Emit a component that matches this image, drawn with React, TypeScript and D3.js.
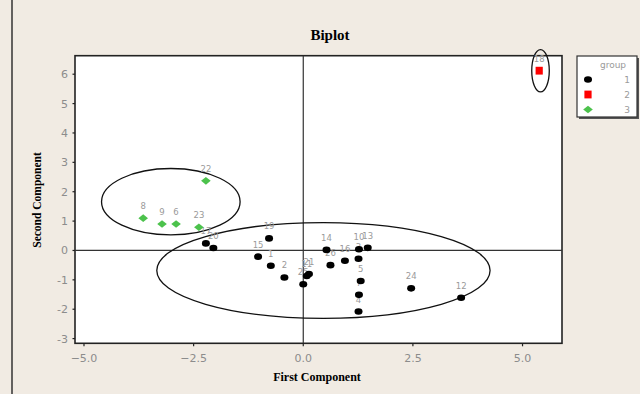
import React from "react";
import * as d3 from "d3";

const ids = ["1","2","3","4","5","6","7","8","9","10","11","12","13","14","15","16","17","18","19","20","21","22","23","24","25","26"];
const pc1 = [-0.74,-0.43,1.26,1.26,1.31,-2.90,1.27,-3.65,-3.22,1.27,0.08,3.60,1.47,0.53,-1.03,0.95,-2.22,5.38,-0.78,-2.05,0.13,-2.22,-2.38,2.46,0.0,0.62];
const pc2 = [-0.52,-0.92,-0.28,-2.08,-1.04,0.90,-1.51,1.10,0.90,0.04,-0.87,-1.61,0.09,0.02,-0.21,-0.35,0.24,6.12,0.41,0.085,-0.80,2.37,0.79,-1.29,-1.15,-0.50];
const groups = [1,1,1,1,1,3,1,3,3,1,1,1,1,1,1,1,1,2,1,1,1,3,3,1,1,1];

const xTicks = [-5, -2.5, 0, 2.5, 5];
const yTicks = [-3, -2, -1, 0, 1, 2, 3, 4, 5, 6];
const groupNames = ["1", "2", "3"];

// ellipses: [cx, cy, rx, ry] in data units
const ellipseCx = [0.46, 5.41, -3.02];
const ellipseCy = [-0.68, 6.12, 1.66];
const ellipseRx = [3.80, 0.20, 1.58];
const ellipseRy = [1.63, 0.72, 1.13];

const BG = "#f1ebe3";
const GREEN = "#4cc24c";
const RED = "#ff0000";

function Marker({ g, cx, cy }: { g: number; cx: number; cy: number }) {
  if (g === 1) return <ellipse cx={cx} cy={cy} rx={4} ry={3.3} fill="#000" />;
  if (g === 2) return <rect x={cx - 3.6} y={cy - 3.9} width={7.2} height={7.8} fill={RED} />;
  return (
    <path
      d={`M${cx - 4.8},${cy} L${cx},${cy - 3.8} L${cx + 4.8},${cy} L${cx},${cy + 3.8} Z`}
      fill={GREEN}
    />
  );
}

export default function App() {
  const left = 75, right = 562, top = 55.7, bottom = 343.3;
  const x = d3.scaleLinear().domain([-5.205, 5.9]).range([left, right]);
  const y = d3.scaleLinear().domain([-3.16, 6.63]).range([bottom, top]);
  const fmt = d3.format(".1f");
  const tickFont = "'DejaVu Sans', sans-serif";

  return (
    <svg width={640} height={394} style={{ position: "absolute", left: 0, top: 0 }}>
      <rect x={0} y={0} width={640} height={394} fill={BG} />
      <line x1={12} x2={12} y1={0} y2={394} stroke="#333" strokeWidth={1.5} />
      <text x={330} y={40} textAnchor="middle" fontFamily="'Liberation Serif', serif" fontWeight="bold" fontSize={15}>
        Biplot
      </text>
      <rect x={left} y={top} width={right - left} height={bottom - top} fill="#fff" stroke="#222" strokeWidth={1.6} />
      {/* reference lines */}
      <line x1={x(0)} x2={x(0)} y1={top} y2={bottom} stroke="#333" strokeWidth={1.2} />
      <line x1={left} x2={right} y1={y(0)} y2={y(0)} stroke="#333" strokeWidth={1.2} />
      {/* y ticks */}
      {yTicks.map((t) => (
        <g key={"y" + t}>
          <line x1={left - 2.5} x2={left} y1={y(t)} y2={y(t)} stroke="#222" strokeWidth={1.2} />
          <text x={left - 7} y={y(t) + 4} textAnchor="end" fontFamily={tickFont} fontSize={11} fill="#8c8c8c">
            {String(t)}
          </text>
        </g>
      ))}
      {/* x ticks */}
      {xTicks.map((t) => (
        <g key={"x" + t}>
          <line x1={x(t)} x2={x(t)} y1={bottom} y2={bottom + 3} stroke="#222" strokeWidth={1.2} />
          <text x={x(t)} y={bottom + 19} textAnchor="middle" fontFamily={tickFont} fontSize={11} fill="#8c8c8c">
            {fmt(t)}
          </text>
        </g>
      ))}
      <text x={317} y={381} textAnchor="middle" fontFamily="'Liberation Serif', serif" fontWeight="bold" fontSize={12}>
        First Component
      </text>
      <text
        transform={`translate(41,200) rotate(-90)`}
        textAnchor="middle"
        fontFamily="'Liberation Serif', serif"
        fontWeight="bold"
        fontSize={11.5}
      >
        Second Component
      </text>
      {/* ellipses */}
      {ellipseCx.map((c, i) => (
        <ellipse
          key={"e" + i}
          cx={x(c)}
          cy={y(ellipseCy[i])}
          rx={x(c + ellipseRx[i]) - x(c)}
          ry={y(ellipseCy[i] - ellipseRy[i]) - y(ellipseCy[i])}
          fill="none"
          stroke="#111"
          strokeWidth={1.3}
        />
      ))}
      {/* labels */}
      {ids.map((id, i) => (
        <text
          key={"l" + id}
          x={x(pc1[i])}
          y={y(pc2[i]) - 9}
          textAnchor="middle"
          fontFamily="'DejaVu Sans', sans-serif"
          fontSize={8.5}
          fill="#9a9a9a"
        >
          {id}
        </text>
      ))}
      {/* points */}
      {ids.map((id, i) => (
        <Marker key={"p" + id} g={groups[i]} cx={x(pc1[i])} cy={y(pc2[i])} />
      ))}
      {/* legend */}
      <rect x={579} y={58} width={60} height={61} fill="#555" />
      <rect x={577} y={56} width={60} height={61} fill="#fff" stroke="#333" strokeWidth={1.2} />
      <text x={613} y={68} textAnchor="middle" fontFamily={tickFont} fontSize={9} fill="#9a9a9a">
        group
      </text>
      {groupNames.map((g, i) => (
        <g key={"lg" + g}>
          <Marker g={i + 1} cx={588} cy={79.5 + i * 15} />
          <text x={627} y={79.5 + i * 15 + 3.5} textAnchor="middle" fontFamily={tickFont} fontSize={9} fill="#9a9a9a">
            {g}
          </text>
        </g>
      ))}
    </svg>
  );
}
